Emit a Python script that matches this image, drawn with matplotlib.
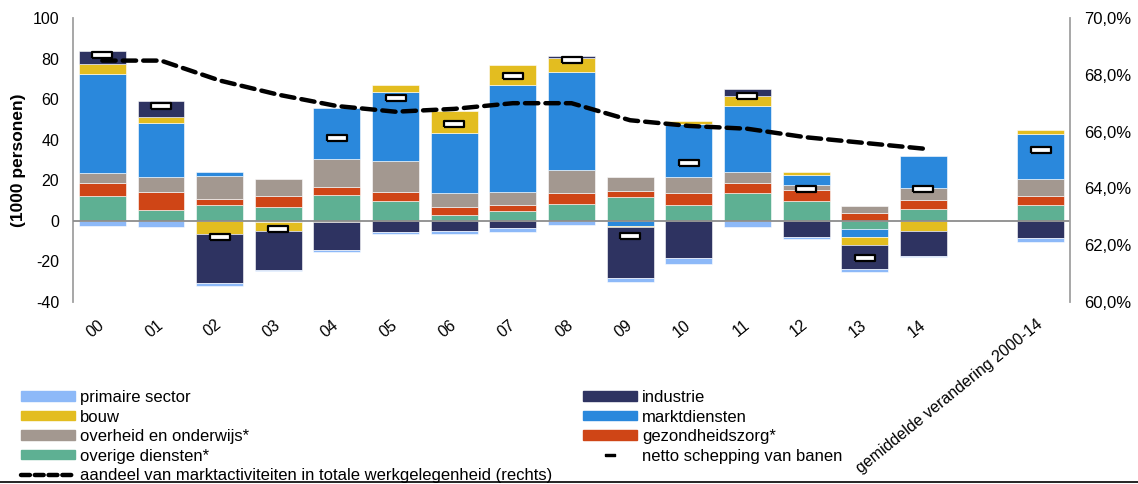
import numpy as np
import matplotlib
matplotlib.use("Agg")
import matplotlib.pyplot as plt
from matplotlib.patches import Patch
from matplotlib.lines import Line2D
from matplotlib.ticker import FuncFormatter

plt.rcParams["font.family"] = ["Liberation Sans", "DejaVu Sans"]
plt.rcParams["axes.unicode_minus"] = False

# jaren 2000-2014 plus gemiddelde
tick_labels = ["00", "01", "02", "03", "04", "05", "06", "07", "08", "09",
               "10", "11", "12", "13", "14", "gemiddelde verandering 2000-14"]
positions = list(range(15)) + [16]

# bijdrage per sector (1000 personen), stapelvolgorde van onder naar boven
overige = [12.5, 5.3, 7.6, 6.9, 12.8, 9.7, 2.8, 5.1, 8.5, 11.7, 7.9, 13.6, 9.9, -3.9, 5.7, 7.7]
gezondheidszorg = [6.2, 8.7, 3.2, 5.4, 3.8, 4.4, 4.1, 2.5, 5.3, 3.2, 5.6, 5.1, 5.5, 3.8, 4.6, 4.8]
overheid = [4.9, 7.5, 11.4, 8.2, 14.1, 15.3, 6.7, 6.4, 11.2, 6.8, 8.2, 5.4, 2.3, 3.3, 5.8, 7.9]
marktdiensten = [48.8, 26.8, 1.9, -0.7, 25.0, 34.1, 29.9, 52.8, 48.6, -2.3, 26.1, 32.7, 5.0, -4.0, 16.1, 22.6]
bouw = [4.8, 3.1, -6.4, -4.5, -0.8, 3.7, 10.5, 10.2, 6.9, -0.9, 1.6, 4.9, 1.4, -3.9, -4.8, 1.8]
industrie = [6.7, 7.7, -24.0, -19.2, -13.4, -5.6, -4.8, -3.4, 0.9, -25.0, -18.1, 3.2, -8.0, -12.0, -12.3, -8.5]
primaire = [-2.5, -2.8, -1.9, -0.3, -1.1, -0.8, -1.9, -2.3, -2.0, -1.8, -3.1, -2.8, -0.9, -1.2, -0.5, -1.7]

netto = [81.8, 56.5, -8.2, -3.8, 41.0, 60.8, 47.8, 71.4, 79.3, -7.7, 28.6, 61.6, 15.9, -18.2, 15.6, 35.0]

# aandeel marktactiviteiten (%), alleen 2000-2014
aandeel_jaren = list(range(15))
aandeel = [68.5, 68.5, 67.8, 67.3, 66.9, 66.7, 66.8, 67.0, 67.0, 66.4, 66.2, 66.1, 65.8, 65.6, 65.4]

series = [
    ("overige diensten*", overige, "#5EB093"),
    ("gezondheidszorg*", gezondheidszorg, "#CF4516"),
    ("overheid en onderwijs*", overheid, "#A39890"),
    ("marktdiensten", marktdiensten, "#2A88DC"),
    ("bouw", bouw, "#E3BD20"),
    ("industrie", industrie, "#2E3361"),
    ("primaire sector", primaire, "#8DB9F8"),
]
colors = {name: c for name, _, c in series}

fig = plt.figure(figsize=(11.38, 4.84), dpi=100)
ax = fig.add_axes([73 / 1138, 182 / 484, 997 / 1138, 284 / 484])

x = np.array(positions, dtype=float)
pos_bottom = np.zeros(len(x))
neg_bottom = np.zeros(len(x))
for name, vals, col in series:
    v = np.array(vals)
    bottom = np.where(v >= 0, pos_bottom, neg_bottom)
    ax.bar(x, v, width=0.8, bottom=bottom, color=col,
           edgecolor="white", linewidth=0.4, zorder=2)
    pos_bottom += np.where(v >= 0, v, 0)
    neg_bottom += np.where(v < 0, v, 0)

# netto schepping als wit streepje met zwarte rand
dash = [(-1, -0.25), (1, -0.25), (1, 0.25), (-1, 0.25), (-1, -0.25)]
ax.plot(x, netto, linestyle="none", marker=dash, markersize=15,
        markerfacecolor="white", markeredgecolor="black", markeredgewidth=1.6, zorder=4)

ax.axhline(0, color="#8c8c8c", linewidth=1.3, zorder=3)
ax.set_xlim(-0.5, 16.5)
ax.set_ylim(-40, 100)
ax.set_yticks(range(-40, 101, 20))
ax.set_xticks(positions)
ax.set_xticklabels(tick_labels, rotation=39, ha="right", va="center",
                   rotation_mode="anchor")
ax.tick_params(axis="x", length=0, pad=15, labelsize=11.5)
ax.tick_params(axis="y", length=0, pad=10, labelsize=11.5)
ax.set_ylabel("(1000 personen)", fontsize=12.5, fontweight="bold")
ax.yaxis.set_label_coords(-0.047, 0.5)
for side in ["top", "right", "bottom"]:
    ax.spines[side].set_visible(False)
ax.spines["left"].set_color("#a0a0a0")
ax.spines["left"].set_linewidth(1.3)

ax2 = ax.twinx()
ax2.plot(aandeel_jaren, aandeel, color="black", linewidth=3.2,
         dashes=(3.0, 1.6), dash_capstyle="round", zorder=5)
ax2.set_ylim(60, 70)
ax2.set_yticks(range(60, 71, 2))
ax2.yaxis.set_major_formatter(FuncFormatter(lambda v, p: f"{v:.1f}%".replace(".", ",")))
ax2.tick_params(axis="y", length=0, pad=10, labelsize=12)
for side in ["top", "left", "bottom"]:
    ax2.spines[side].set_visible(False)
ax2.spines["right"].set_color("#a0a0a0")
ax2.spines["right"].set_linewidth(1.3)

# legenda in twee kolommen
h_primaire = Patch(color=colors["primaire sector"])
h_bouw = Patch(color=colors["bouw"])
h_overheid = Patch(color=colors["overheid en onderwijs*"])
h_overige = Patch(color=colors["overige diensten*"])
h_aandeel = Line2D([], [], color="black", linewidth=3.2, dashes=(2.0, 1.1), dash_capstyle="round")
h_industrie = Patch(color=colors["industrie"])
h_markt = Patch(color=colors["marktdiensten"])
h_gezond = Patch(color=colors["gezondheidszorg*"])
h_netto = Line2D([], [], linestyle="none", marker=dash, markersize=7,
                 markerfacecolor="black", markeredgecolor="black")

leg_kw = dict(frameon=False, fontsize=12, handlelength=3.25, handleheight=0.48,
              handletextpad=0.3, labelspacing=0.27, borderpad=0, borderaxespad=0)
fig.legend([h_primaire, h_bouw, h_overheid, h_overige, h_aandeel],
           ["primaire sector", "bouw", "overheid en onderwijs*", "overige diensten*",
            "aandeel van marktactiviteiten in totale werkgelegenheid (rechts)"],
           loc="upper left", bbox_to_anchor=(21 / 1138, 1 - 390 / 484), **leg_kw)
fig.legend([h_industrie, h_markt, h_gezond, h_netto],
           ["industrie", "marktdiensten", "gezondheidszorg*", "netto schepping van banen"],
           loc="upper left", bbox_to_anchor=(583 / 1138, 1 - 390 / 484), **leg_kw)

fig.add_artist(Line2D([0, 1], [2.5 / 484, 2.5 / 484], color="black", linewidth=1.2,
                      transform=fig.transFigure))

fig.savefig("out.png", dpi=100)
